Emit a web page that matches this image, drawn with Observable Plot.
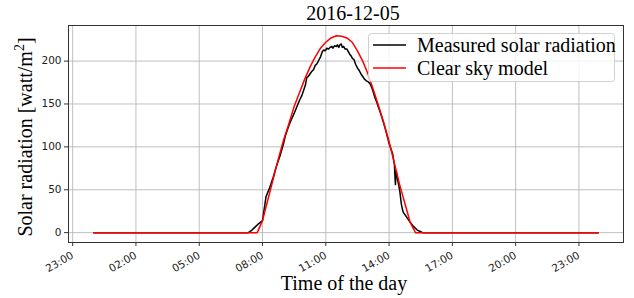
<!DOCTYPE html>
<html>
<head>
<meta charset="utf-8">
<script src="https://cdn.jsdelivr.net/npm/d3@7"></script>
<script src="https://cdn.jsdelivr.net/npm/@observablehq/plot@0.6"></script>
<style>
  html, body { margin: 0; padding: 0; background: #fff; }
  #chart { width: 634px; height: 298px; }
</style>
</head>
<body>
<div id="chart"></div>
<script>
// Measured solar radiation (time of day, watt/m²)
const measuredTimes = ["00:00","07:20","07:30","07:45","08:00","08:05","08:10","08:20","08:30","08:40","08:50","09:00","09:05","09:15","09:20","09:30","09:38","09:45","09:52","09:57","10:02","10:06","10:10","10:15","10:20","10:25","10:30","10:35","10:40","10:45","10:50","10:54","10:58","11:03","11:08","11:12","11:17","11:20","11:25","11:30","11:33","11:37","11:40","11:44","11:47","11:51","11:55","12:00","12:04","12:08","12:12","12:16","12:20","12:25","12:30","12:35","12:40","12:45","12:50","12:55","13:00","13:05","13:10","13:15","13:20","13:25","13:30","13:35","13:40","13:45","13:50","13:55","14:00","14:05","14:10","14:15","14:18","14:20","14:25","14:30","14:35","14:40","14:45","14:50","15:00","15:10","15:20","15:30","15:35","23:55"];
const measuredValues = [0,0,3,9,14,28,42,52,64,78,90,104,113,125,130,139,147,154,160,166,172,181,182,185,188,190,195,197,201,205,211,213,212,215,214,216,217,215,218,217,219,216,219,220,216,217,214,214,211,208,206,203,202,196,192,189,185,182,179,177,176,174,170,164,157,152,146,140,134,127,120,112,104,98,92,80,56,72,60,50,33,24,21,18,12,7,3,1,0,0];

// Clear sky model
const clearTimes = ["00:00","07:45","08:00","08:15","08:30","08:45","09:00","09:15","09:30","09:45","10:00","10:15","10:30","10:45","11:00","11:15","11:30","11:45","12:00","12:15","12:30","12:45","13:00","13:15","13:30","13:45","14:00","14:15","14:30","14:45","15:00","15:15","23:55"];
const clearValues = [0,0,14,38,62,86,108,127,147,163,179,193,205,215,222,227,229.5,229,227,222,212,200,185,167,148,128,106,81,56,34,12,0,0];

const xTickLabels = ["2016-12-04T23:00","2016-12-05T02:00","2016-12-05T05:00","2016-12-05T08:00","2016-12-05T11:00","2016-12-05T14:00","2016-12-05T17:00","2016-12-05T20:00","2016-12-05T23:00"];
const yTicks = [0, 50, 100, 150, 200];

const day = "2016-12-05";
const toDate = (t) => new Date(day + "T" + t + ":00Z");
const measured = measuredTimes.map((t, i) => ({time: toDate(t), value: measuredValues[i]}));
const clear = clearTimes.map((t, i) => ({time: toDate(t), value: clearValues[i]}));
const xTicks = xTickLabels.map(s => new Date(s + ":00Z"));

const plot = Plot.plot({
  width: 634,
  height: 298,
  marginLeft: 68,
  marginRight: 11,
  marginTop: 25,
  marginBottom: 56,
  style: {fontFamily: "DejaVu Sans", fontSize: "10.5px", color: "#222", background: "#fff"},
  x: {type: "utc", domain: [new Date("2016-12-04T22:48:10Z"), new Date("2016-12-06T01:06:45Z")]},
  y: {domain: [-11.5, 241.5]},
  marks: [
    Plot.gridX(xTicks, {stroke: "#b0b0b0", strokeOpacity: 1, strokeWidth: 0.8}),
    Plot.gridY(yTicks, {stroke: "#b0b0b0", strokeOpacity: 1, strokeWidth: 0.8}),
    Plot.axisX({ticks: xTicks, tickFormat: d3.utcFormat("%H:%M"), tickRotate: -30, tickSize: 4, tickPadding: 8, label: null, stroke: "#333"}),
    Plot.axisY({ticks: yTicks, tickSize: 4, tickPadding: 3, label: null, stroke: "#333"}),
    Plot.line(measured, {x: "time", y: "value", stroke: "#000", strokeWidth: 1.5}),
    Plot.line(clear, {x: "time", y: "value", stroke: "#ff0000", strokeWidth: 1.5}),
    Plot.frame({stroke: "#333", strokeWidth: 1})
  ]
});
document.getElementById("chart").appendChild(plot);

const svg = d3.select(plot);
const serif = "'Liberation Serif', 'DejaVu Serif', serif";
svg.append("text").attr("x", 353).attr("y", 20).attr("text-anchor", "middle")
  .style("font-family", serif).style("font-size", "20px").attr("fill", "#000").text("2016-12-05");
svg.append("text").attr("x", 344).attr("y", 290).attr("text-anchor", "middle")
  .style("font-family", serif).style("font-size", "20px").attr("fill", "#000").text("Time of the day");
const yl = svg.append("text").attr("transform", "translate(32,137) rotate(-90)").attr("text-anchor", "middle")
  .style("font-family", serif).style("font-size", "20px").attr("fill", "#000");
yl.append("tspan").text("Solar radiation [watt/m");
yl.append("tspan").attr("dy", -8).style("font-size", "14px").text("2");
yl.append("tspan").attr("dy", 8).text("]");

// Legend
const lg = svg.append("g");
lg.append("rect").attr("x", 368.5).attr("y", 33.5).attr("width", 246).attr("height", 48).attr("rx", 3)
  .attr("fill", "#fff").attr("fill-opacity", 0.8).attr("stroke", "#d0d0d0");
const items = [{label: "Measured solar radiation", color: "#000"}, {label: "Clear sky model", color: "#ff0000"}];
items.forEach((it, i) => {
  const cy = 45 + i * 23;
  lg.append("line").attr("x1", 373).attr("x2", 406).attr("y1", cy).attr("y2", cy)
    .attr("stroke", it.color).attr("stroke-width", 1.5);
  lg.append("text").attr("x", 417).attr("y", cy + 7).attr("text-anchor", "start")
    .style("font-family", serif).style("font-size", "20px").attr("fill", "#000").text(it.label);
});
</script>
</body>
</html>
